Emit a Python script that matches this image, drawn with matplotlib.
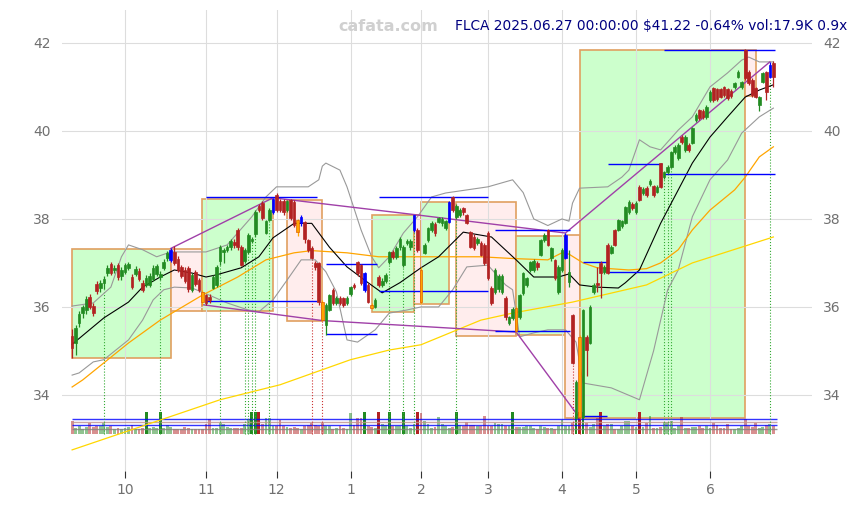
import matplotlib
matplotlib.use('Agg')
import matplotlib.pyplot as plt
from matplotlib.patches import Rectangle
import numpy as np

# daily candles, 2024-09-10 .. 2025-06-27 (trading days)
opens = [
    35.33, 35.18, 35.64, 35.86, 35.93, 36.23, 36.02, 36.52, 36.43, 36.55,
    36.77, 36.98, 36.84, 36.95, 36.70, 36.80, 36.89, 36.68, 36.75, 36.82,
    36.55, 36.50, 36.50, 36.64, 36.75, 36.68, 36.89, 37.11, 37.07, 37.25,
    37.10, 36.90, 36.84, 36.89, 36.39, 36.80, 36.61, 36.34, 36.27, 36.22,
    36.43, 36.50, 37.05, 37.25, 37.30, 37.36, 37.48, 37.75, 37.36, 37.05,
    37.25, 37.50, 37.66, 38.30, 38.36, 37.68, 37.98, 38.16, 38.55, 38.40,
    38.40, 38.20, 38.43, 38.39, 37.98, 37.90, 37.93, 37.52, 37.34, 37.00,
    37.00, 36.11, 35.60, 35.93, 36.39, 36.10, 36.20, 36.20, 36.10, 36.30,
    36.50, 37.02, 36.95, 36.39, 36.50, 36.05, 36.00, 36.68, 36.50, 36.60,
    37.02, 37.25, 37.14, 37.36, 36.95, 37.45, 37.36, 37.75, 37.75, 36.85,
    37.23, 37.52, 37.75, 37.88, 37.93, 37.90, 37.80, 37.93, 38.50, 38.05,
    38.10, 38.25, 38.09, 37.70, 37.60, 37.45, 37.45, 37.41, 37.68, 36.43,
    36.34, 36.40, 36.35, 36.20, 35.64, 35.75, 35.98, 35.77, 36.32, 36.50,
    36.84, 36.85, 37.00, 37.18, 37.52, 37.75, 37.11, 37.07, 36.34, 36.84,
    37.11, 36.57, 35.82, 33.48, 35.32, 33.50, 35.32, 35.18, 36.34, 36.55,
    37.00, 36.80, 37.41, 37.23, 37.75, 37.75, 37.85, 37.91, 38.16, 38.35,
    38.16, 38.73, 38.60, 38.70, 38.80, 38.75, 38.62, 39.27, 38.95, 39.07,
    39.18, 39.52, 39.39, 39.86, 39.57, 39.68, 39.73, 40.25, 40.48, 40.45,
    40.32, 40.70, 40.98, 40.95, 40.95, 41.00, 40.95, 40.90, 41.00, 41.23,
    41.00, 41.84, 41.34, 41.16, 40.98, 40.59, 41.11, 41.34, 41.23, 41.55,
]
highs = [
    35.50, 35.60, 35.90, 36.05, 36.25, 36.30, 36.10, 36.60, 36.62, 36.70,
    36.95, 37.02, 36.95, 37.00, 36.90, 37.00, 37.02, 36.75, 36.92, 36.88,
    36.62, 36.72, 36.78, 36.95, 36.98, 36.82, 37.08, 37.27, 37.33, 37.38,
    37.15, 36.95, 36.90, 36.92, 36.78, 36.85, 36.66, 36.38, 36.30, 36.30,
    36.72, 36.95, 37.40, 37.35, 37.40, 37.55, 37.55, 37.80, 37.40, 37.35,
    37.68, 37.60, 38.20, 38.35, 38.40, 37.98, 38.25, 38.48, 38.58, 38.45,
    38.45, 38.42, 38.45, 38.42, 38.00, 38.08, 37.96, 37.55, 37.38, 37.05,
    37.02, 36.15, 36.10, 36.30, 36.42, 36.25, 36.25, 36.22, 36.25, 36.48,
    36.55, 37.05, 36.98, 36.80, 36.55, 36.10, 36.20, 36.72, 36.65, 36.78,
    37.28, 37.30, 37.38, 37.58, 37.40, 37.55, 37.55, 38.10, 37.80, 36.90,
    37.45, 37.82, 37.95, 37.92, 38.05, 38.05, 37.98, 38.40, 38.52, 38.35,
    38.25, 38.28, 38.12, 37.72, 37.65, 37.60, 37.50, 37.45, 37.72, 36.48,
    36.88, 36.75, 36.75, 36.25, 35.80, 36.00, 36.02, 36.30, 36.80, 36.68,
    37.05, 37.08, 37.05, 37.55, 37.68, 37.78, 37.36, 37.10, 36.95, 37.35,
    37.68, 37.30, 35.85, 34.35, 35.36, 35.96, 35.36, 36.05, 36.55, 36.90,
    37.05, 36.95, 37.45, 37.40, 37.78, 38.00, 37.98, 38.30, 38.42, 38.38,
    38.40, 38.78, 38.72, 38.74, 38.90, 38.78, 38.78, 39.28, 39.10, 39.22,
    39.55, 39.67, 39.72, 39.90, 39.90, 39.72, 40.10, 40.40, 40.50, 40.50,
    40.58, 40.92, 41.00, 40.98, 40.98, 41.02, 40.98, 40.95, 41.12, 41.38,
    41.14, 41.86, 41.38, 41.20, 41.00, 40.80, 41.35, 41.37, 41.57, 41.60,
]
lows = [
    34.85, 34.90, 35.55, 35.75, 35.85, 35.95, 35.80, 36.30, 36.35, 36.40,
    36.70, 36.72, 36.78, 36.62, 36.62, 36.75, 36.85, 36.40, 36.70, 36.60,
    36.35, 36.45, 36.45, 36.60, 36.70, 36.62, 36.85, 37.05, 37.02, 36.95,
    36.80, 36.65, 36.55, 36.35, 36.35, 36.48, 36.35, 36.05, 36.05, 36.10,
    36.40, 36.45, 36.95, 37.00, 37.25, 37.30, 37.35, 37.30, 36.92, 37.00,
    37.20, 37.45, 37.60, 38.15, 37.98, 37.65, 37.95, 38.12, 38.15, 38.15,
    38.10, 38.15, 37.98, 37.82, 37.62, 37.85, 37.45, 37.25, 37.08, 36.85,
    36.05, 35.69, 35.36, 35.90, 36.05, 36.05, 36.05, 36.00, 36.05, 36.25,
    36.40, 36.70, 36.50, 36.35, 36.08, 35.95, 35.98, 36.45, 36.45, 36.55,
    36.98, 37.10, 37.10, 37.30, 36.90, 37.40, 37.30, 37.70, 37.25, 36.07,
    37.20, 37.48, 37.70, 37.62, 37.90, 37.85, 37.75, 37.90, 38.15, 38.00,
    38.05, 38.10, 37.88, 37.33, 37.30, 37.40, 37.15, 36.95, 36.62, 36.05,
    36.30, 36.35, 36.30, 35.70, 35.60, 35.70, 35.43, 35.72, 36.28, 36.45,
    36.80, 36.80, 36.85, 37.15, 37.48, 37.38, 37.05, 36.62, 36.30, 36.80,
    37.08, 36.45, 34.70, 33.45, 33.48, 33.48, 34.42, 35.15, 36.30, 36.35,
    36.20, 36.75, 36.75, 37.20, 37.38, 37.72, 37.80, 37.88, 38.12, 38.20,
    38.12, 38.40, 38.55, 38.50, 38.75, 38.50, 38.58, 38.70, 38.90, 39.02,
    39.15, 39.48, 39.35, 39.70, 39.52, 39.52, 39.70, 40.20, 40.25, 40.28,
    40.28, 40.65, 40.65, 40.68, 40.74, 40.78, 40.70, 40.75, 40.96, 41.20,
    40.96, 41.15, 41.05, 40.78, 40.74, 40.45, 41.08, 40.70, 41.20, 41.00,
]
closes = [
    35.06, 35.52, 35.84, 36.00, 36.18, 36.00, 35.86, 36.36, 36.55, 36.64,
    36.89, 36.77, 36.89, 36.68, 36.85, 36.95, 36.98, 36.45, 36.86, 36.64,
    36.39, 36.66, 36.70, 36.89, 36.93, 36.75, 37.02, 37.23, 37.30, 37.00,
    36.85, 36.70, 36.60, 36.40, 36.72, 36.52, 36.39, 36.11, 36.09, 36.15,
    36.68, 36.91, 37.36, 37.30, 37.36, 37.50, 37.40, 37.36, 36.95, 37.30,
    37.64, 37.55, 38.16, 38.20, 38.02, 37.95, 38.20, 38.45, 38.20, 38.20,
    38.15, 38.40, 38.02, 37.86, 37.70, 38.05, 37.55, 37.30, 37.11, 36.90,
    36.11, 35.70, 36.05, 36.27, 36.09, 36.20, 36.10, 36.05, 36.20, 36.45,
    36.45, 36.77, 36.55, 36.77, 36.11, 35.98, 36.16, 36.50, 36.60, 36.72,
    37.25, 37.14, 37.34, 37.55, 37.36, 37.50, 37.50, 38.09, 37.30, 36.12,
    37.41, 37.80, 37.91, 37.68, 38.02, 38.00, 37.95, 38.39, 38.20, 38.30,
    38.20, 38.15, 37.91, 37.36, 37.35, 37.55, 37.18, 37.00, 36.66, 36.09,
    36.84, 36.70, 36.70, 35.77, 35.77, 35.95, 35.45, 36.27, 36.77, 36.65,
    37.02, 37.05, 36.90, 37.52, 37.64, 37.41, 37.34, 36.66, 36.91, 37.30,
    37.64, 36.80, 34.73, 34.30, 33.50, 35.93, 35.02, 36.00, 36.50, 36.50,
    36.77, 36.90, 36.77, 37.36, 37.41, 37.98, 37.95, 38.27, 38.39, 38.25,
    38.36, 38.43, 38.68, 38.55, 38.86, 38.55, 38.73, 38.73, 39.07, 39.18,
    39.52, 39.64, 39.68, 39.75, 39.86, 39.57, 40.07, 40.36, 40.30, 40.32,
    40.55, 40.89, 40.70, 40.72, 40.78, 40.82, 40.75, 40.80, 41.09, 41.34,
    41.11, 41.20, 41.09, 40.82, 40.77, 40.77, 41.32, 40.89, 41.49, 41.22,
]
# volume in thousands
volumes = [
    29.5, 12.4, 17.9, 10.1, 14.8, 25.6, 14.8, 17.9, 17.9, 25.6,
    14.8, 17.9, 10.1, 12.4, 10.1, 12.4, 14.8, 20.2, 10.1, 10.1,
    12.4, 50.5, 12.4, 14.8, 12.4, 50.5, 12.4, 20.2, 14.8, 10.1,
    10.1, 10.1, 14.8, 12.4, 10.1, 10.1, 10.1, 10.1, 22.5, 33.4,
    12.4, 12.4, 25.6, 22.5, 14.8, 12.4, 12.4, 12.4, 12.4, 22.5,
    33.4, 50.5, 50.5, 50.5, 22.5, 35.7, 35.7, 17.9, 17.9, 31.9,
    17.9, 14.8, 12.4, 14.8, 12.4, 10.1, 17.9, 20.2, 25.6, 20.2,
    17.9, 25.6, 17.9, 17.9, 10.1, 12.4, 17.9, 12.4, 10.1, 47.4,
    20.2, 35.7, 35.7, 50.5, 17.9, 14.8, 12.4, 50.5, 22.5, 20.2,
    50.5, 17.9, 17.9, 17.9, 50.5, 17.9, 12.4, 22.5, 50.5, 47.4,
    30.3, 22.5, 12.4, 14.8, 39.6, 22.5, 17.9, 12.4, 14.8, 50.5,
    20.2, 17.9, 27.2, 20.2, 20.2, 17.9, 17.9, 41.2, 17.9, 17.9,
    25.6, 22.5, 22.5, 17.9, 17.9, 50.5, 14.8, 14.8, 14.8, 17.9,
    17.9, 12.4, 10.1, 17.9, 14.8, 12.4, 12.4, 10.1, 17.9, 31.9,
    17.9, 17.9, 25.6, 50.5, 50.5, 50.5, 25.6, 14.8, 22.5, 35.7,
    50.5, 17.9, 22.5, 22.5, 10.1, 10.1, 17.9, 30.3, 30.3, 17.9,
    14.8, 50.5, 14.8, 25.6, 41.2, 12.4, 12.4, 14.8, 28.0, 28.0,
    30.3, 12.4, 17.9, 38.1, 12.4, 12.4, 14.8, 14.8, 17.9, 12.4,
    17.9, 12.4, 25.6, 20.2, 12.4, 12.4, 22.5, 10.1, 10.1, 12.4,
    17.9, 33.4, 17.9, 14.8, 25.6, 12.4, 14.8, 20.2, 22.5, 17.9,
]
vol_levels = [33.5, 26.6, 19.6, 9.8]
vol_level_colors = ['blue', 'rosybrown', 'blue', 'grey']

blue_bars = [28, 57, 65, 83, 97, 107, 140, 198]
orange_bars = [37, 64, 71, 85, 99, 126, 144]
heavy_vol = [21, 25, 51, 52, 53, 83, 87, 90, 94, 98, 109, 125, 143, 144, 145, 150, 161]
marks_up = [9, 25, 42, 49, 50, 51, 52, 56, 90, 94, 97, 109, 168, 169, 170, 198]
marks_down = [68, 71, 142, 144]

# month starts (trading day index)
month_pos = [15, 38, 58, 79, 99, 118, 139, 160, 181]
month_labels = ['10', '11', '12', '1', '2', '3', '4', '5', '6']

# indicator lines (index, value)
mid_idx = [0, 9, 16, 20, 25, 29, 34, 38, 41, 48, 53, 57, 63, 68, 73, 78, 84, 88, 93, 99,
           104, 111, 119, 126, 131, 138, 141, 144, 149, 155, 157, 161, 167, 172, 176, 181,
           186, 191, 195, 199]
mid_val = [35.15, 35.75, 36.11, 36.45, 36.68, 36.84, 36.77, 36.68, 36.73, 36.89, 37.14,
           37.57, 37.90, 37.90, 37.36, 36.91, 36.55, 36.32, 36.55, 36.89, 37.14, 37.70,
           37.59, 37.07, 36.68, 36.68, 36.75, 36.50, 36.45, 36.43, 36.55, 36.84, 37.90,
           38.66, 39.27, 39.86, 40.32, 40.77, 40.93, 41.05]
slow_idx = [0, 3, 16, 25, 29, 37, 47, 55, 63, 68, 78, 87, 99, 106, 116, 125, 135, 139,
            141, 145, 149, 158, 163, 167, 172, 176, 181, 188, 191, 195, 199]
slow_val = [34.18, 34.34, 35.18, 35.70, 35.89, 36.27, 36.68, 37.07, 37.23, 37.28, 37.23,
            37.14, 37.14, 37.14, 37.14, 37.10, 37.07, 37.23, 37.20, 37.00, 36.89, 36.84,
            36.87, 37.00, 37.30, 37.75, 38.20, 38.66, 38.95, 39.41, 39.64]
long_idx = [0, 42, 59, 79, 90, 99, 116, 125, 142, 163, 176, 199]
long_val = [32.75, 33.89, 34.23, 34.80, 35.02, 35.14, 35.70, 35.86, 36.11, 36.50, 37.00, 37.59]
up_idx = [0, 6, 11, 14, 16, 20, 24, 28, 34, 38, 44, 51, 55, 58, 67, 70, 71, 72, 76, 78,
          82, 85, 87, 90, 94, 98, 102, 106, 112, 118, 125, 128, 131, 135, 139, 141, 142,
          144, 152, 156, 158, 161, 164, 167, 172, 176, 181, 186, 190, 192, 195, 199]
up_val = [36.02, 36.09, 36.45, 37.14, 37.41, 37.30, 37.14, 37.25, 37.25, 37.25, 37.41,
          38.05, 38.50, 38.73, 38.73, 38.89, 39.20, 39.27, 39.11, 38.73, 37.75, 37.14,
          36.89, 37.14, 37.68, 38.05, 38.50, 38.59, 38.66, 38.73, 38.89, 38.60, 38.00,
          37.85, 38.00, 37.95, 38.36, 38.70, 38.73, 38.95, 39.11, 39.80, 39.64, 39.57,
          40.02, 40.32, 41.00, 41.32, 41.61, 41.68, 41.57, 41.57]
lo_idx = [0, 2, 6, 9, 16, 20, 23, 26, 29, 34, 38, 44, 50, 53, 57, 61, 65, 69, 72, 75, 78,
          81, 86, 90, 95, 99, 104, 108, 112, 118, 123, 125, 127, 131, 135, 140, 143, 145,
          153, 161, 165, 169, 172, 176, 181, 186, 190, 195, 199]
lo_val = [34.45, 34.50, 34.75, 34.80, 35.25, 35.70, 36.16, 36.39, 36.45, 36.43, 36.30,
          36.09, 35.93, 35.89, 36.16, 36.61, 37.07, 37.07, 36.80, 36.34, 35.25, 35.20,
          35.48, 35.86, 35.93, 36.00, 36.00, 36.39, 36.91, 36.95, 36.50, 36.39, 35.32,
          35.41, 35.48, 35.48, 35.20, 34.27, 34.16, 33.89, 35.00, 36.39, 36.84, 38.05,
          38.89, 39.34, 39.95, 40.32, 40.52]

# trend lines through pivots
top_idx = [28, 57, 97, 140, 198]
top_val = [37.33, 38.48, 38.10, 37.68, 41.57]
bot_idx = [37, 71, 126, 144]
bot_val = [36.05, 35.69, 35.43, 33.48]

# range boxes
box_start = [0, 28, 37, 61, 85, 97, 99, 109, 126, 140, 144, 191]
box_end = [28, 37, 57, 71, 97, 99, 107, 126, 140, 144, 191, 194]
box_low = [34.84, 35.90, 35.90, 35.69, 35.89, 36.07, 36.07, 35.34, 35.36, 33.48, 33.48, 40.80]
box_high = [37.32, 37.32, 38.45, 38.42, 38.09, 38.09, 38.39, 38.39, 37.61, 37.64, 41.84, 41.84]
box_up = [1, 0, 1, 0, 1, 0, 1, 0, 1, 0, 1, 0]

# support / resistance segments
lvl_start = [38, 38, 72, 72, 87, 87, 120, 120, 145, 145, 152, 152, 168, 168]
lvl_end = [69.5, 69.5, 86.5, 86.5, 118, 118, 141.3, 141.3, 151.8, 151.8, 167.4, 167.4, 199.5, 199.5]
lvl_val = [38.51, 36.14, 36.98, 35.39, 38.49, 36.36, 37.75, 35.45, 37.02, 33.53, 39.24, 36.79, 41.84, 39.02]

GREEN = '#228b22'
RED = '#b22222'

fig = plt.figure(figsize=(8.58, 5.05), dpi=100)
ax = fig.add_axes([62 / 858, 1 - 471 / 505, 750 / 858, 461 / 505])

x = np.arange(len(closes))
o = np.array(opens)
c = np.array(closes)
up = c >= o

# boxes
for s, e, lo, hi, u in zip(box_start, box_end, box_low, box_high, box_up):
    ax.add_patch(Rectangle((s, lo), e - s, hi - lo,
                           facecolor='#ccffcc' if u else '#ffeded',
                           edgecolor='#e0a060', linewidth=1.2, zorder=0.2))

# volume at the bottom
vbase = 33.12
vscale = 1 / 102.5
vcols = []
for i in range(len(volumes)):
    rgb = GREEN if up[i] else RED
    rgba = list(matplotlib.colors.to_rgba(rgb))
    rgba[3] = 1.0 if i in heavy_vol else 0.5
    vcols.append(rgba)
ax.bar(x, np.array(volumes) * vscale, bottom=vbase, width=0.8, color=vcols, zorder=1)
for lv, col in zip(vol_levels, vol_level_colors):
    ax.hlines(vbase + lv * vscale, 0, 200, color=col, lw=1, alpha=0.8, zorder=1.1)

# signal markers
ax.vlines(marks_up, vbase, [lows[i] for i in marks_up], color='#33aa33', lw=0.8,
          linestyles=':', zorder=1.2)
ax.vlines(marks_down, vbase, [lows[i] for i in marks_down], color='#cc3333', lw=0.8,
          linestyles=':', zorder=1.2)

# indicators
ax.plot(up_idx, up_val, color='#999999', lw=0.8, zorder=2)
ax.plot(lo_idx, lo_val, color='#999999', lw=0.8, zorder=2)
ax.plot(long_idx, long_val, color='#ffd700', lw=0.9, zorder=2)
ax.plot(slow_idx, slow_val, color='#ffa500', lw=0.9, zorder=2)
ax.plot(mid_idx, mid_val, color='black', lw=0.8, zorder=2)

ax.plot(top_idx, top_val, color='#a040a8', lw=1, zorder=2.5)
ax.plot(bot_idx, bot_val, color='#a040a8', lw=1, zorder=2.5)
ax.hlines(lvl_val, lvl_start, lvl_end, color='blue', lw=1, zorder=2.6)

# candles
body_col = []
edge_col = []
for i in range(len(closes)):
    if i in blue_bars:
        body_col.append('blue'); edge_col.append('blue')
    elif i in orange_bars:
        body_col.append('orange'); edge_col.append('#e06000')
    else:
        col = GREEN if up[i] else RED
        body_col.append(col); edge_col.append(col)
ax.vlines(x, lows, highs, color=body_col, lw=0.9, zorder=3)
heights = np.maximum(np.abs(c - o), 0.02)
ax.bar(x, heights, bottom=np.minimum(o, c), width=0.75, color=body_col,
       edgecolor=edge_col, linewidth=0.5, zorder=4)

ax.set_xlim(-2.87, 209.96)
ax.set_ylim(32.27, 42.75)
ax.set_axisbelow(True)
ax.grid(True, color='#dddddd', lw=0.8)
for sp in ax.spines.values():
    sp.set_visible(False)
ax.set_yticks([34, 36, 38, 40, 42])
ax.set_xticks(month_pos)
ax.set_xticklabels(month_labels)
ax.tick_params(axis='y', length=0, labelsize=10, labelcolor='#707070',
               labelleft=True, labelright=True, pad=8)
ax.tick_params(axis='x', length=5, color='#333333', labelsize=10, labelcolor='#707070', pad=4)

fig.text(0.453, 0.948, 'cafata.com', color='#d0d0d0', fontsize=11.5,
         fontweight='bold', ha='center', va='center')
fig.text(0.988, 0.948, r'FLCA 2025.06.27 00:00:00 \$41.22 -0.64% vol:17.9K 0.9x',
         color='#000080', fontsize=9.9, ha='right', va='center')

fig.savefig('out.png', dpi=100)
